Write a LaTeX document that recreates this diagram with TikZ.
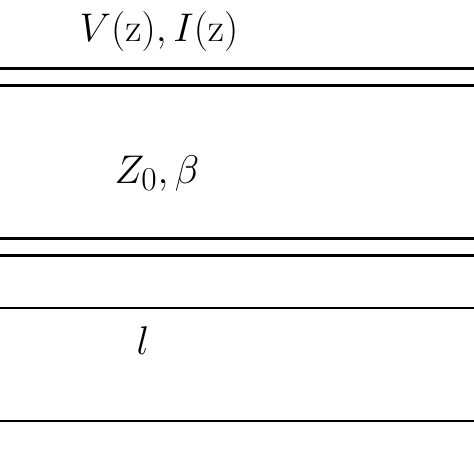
\documentclass[tikz,border=0pt]{standalone}
\usetikzlibrary{positioning}
\tikzset{
  outer wire/.style={
    line width=3pt,
  },
  length mark/.style={
    line width=1.8pt,
  },
  line label/.style={
    anchor=base,
    font=\Huge,
    scale=1.608,
  }
}

\begin{document}
\begin{tikzpicture}[x=1pt, y=-1pt]
        \useasboundingbox (0,0) rectangle (474,474);

        \draw [outer wire] (0,68.5) -- (474,68.5);
        \draw [outer wire] (0,85.3) -- (474,85.3);
        \draw [outer wire] (0,238.7) -- (474,238.7);
        \draw [outer wire] (0,255) -- (474,255);

        \draw [length mark] (0,308) -- (474,308);
        \draw [length mark] (0,421.3) -- (474,421.3);

        \node [line label] (vi) at (159,41) {$V(\mathrm{z}),I(\mathrm{z})$};
        \node [line label] (zb) at (157,183) {$Z_{0},\beta$};
        \node [line label] (len) at (143,354) {$l$};
      \end{tikzpicture}
\end{document}
